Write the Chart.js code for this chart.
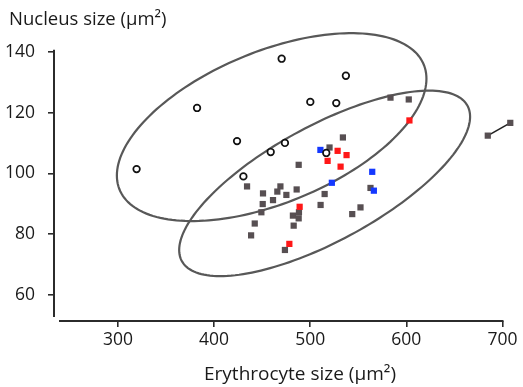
<!DOCTYPE html>
<html>
<head>
<meta charset="utf-8">
<script src="https://cdn.jsdelivr.net/npm/chart.js@4.4.1/dist/chart.umd.min.js"></script>
<style>
  html, body { margin: 0; padding: 0; background: #fff; }
  #wrap { width: 523px; height: 387px; }
</style>
</head>
<body>
<div id="wrap"><canvas id="chart" width="523" height="387"></canvas></div>
<script>
// tick labels
const tickX = [300, 400, 500, 600, 700];
const tickY = [60, 80, 100, 120, 140];

// open circles
const circleX = [319.4, 382.3, 423.9, 430.5, 458.9, 473.7, 470.3, 500.1, 527.1, 537.1, 516.7];
const circleY = [101.4, 121.5, 110.6, 99.0, 107.0, 110.0, 137.7, 123.5, 123.1, 132.1, 106.7];

// grey squares
const grayX = [434.3, 450.9, 469.0, 465.8, 475.2, 461.3, 485.9, 450.6, 449.2, 442.3, 438.5, 488.0, 520.1,
               534.0, 515.0, 510.8, 482.0, 488.3, 488.0, 482.8, 473.7, 543.7, 552.3, 562.7, 583.5, 602.5];
const grayY = [95.7, 93.4, 95.7, 94.0, 92.9, 91.2, 94.7, 89.9, 87.2, 83.5, 79.6, 102.8, 108.5,
               111.8, 93.2, 89.6, 86.1, 87.2, 85.2, 82.8, 74.8, 86.6, 88.8, 95.2, 124.9, 124.3];

// red squares
const redX = [489.0, 478.3, 528.5, 537.8, 518.1, 531.6, 603.2];
const redY = [89.0, 76.8, 107.4, 106.0, 104.1, 102.2, 117.4];

// blue squares
const blueX = [510.6, 522.5, 564.5, 566.2];
const blueY = [107.7, 96.9, 100.5, 94.3];

// the joined pair on the right
const pairX = [684.7, 708.1];
const pairY = [112.4, 116.6];

// ellipses: centre, spread and correlation
const ellipseCenterX = [459.9, 515.0];
const ellipseCenterY = [115.2, 96.7];
const ellipseSdX = [161.0, 151.3];
const ellipseSdY = [30.9, 30.5];
const ellipseCorr = [0.515, 0.7185];

const toPoints = (xs, ys) => xs.map((x, i) => ({ x: x, y: ys[i] }));

const FONT = '"Open Sans", "Noto Sans", sans-serif';
const AXIS = '#2b2b2b';

const framePlugin = {
    id: 'frame',
    beforeDatasetsDraw(chart) {
        const ctx = chart.ctx;
        const xs = chart.scales.x, ys = chart.scales.y;
        ctx.save();
        ctx.strokeStyle = '#585858';
        ctx.lineWidth = 2.2;
        for (let e = 0; e < ellipseCenterX.length; e++) {
            const r = ellipseCorr[e];
            const k = Math.sqrt(1 - r * r);
            ctx.beginPath();
            for (let i = 0; i <= 180; i++) {
                const t = i / 180 * Math.PI * 2;
                const vx = ellipseCenterX[e] + ellipseSdX[e] * Math.cos(t);
                const vy = ellipseCenterY[e] + ellipseSdY[e] * (r * Math.cos(t) + k * Math.sin(t));
                const px = xs.getPixelForValue(vx), py = ys.getPixelForValue(vy);
                if (i === 0) ctx.moveTo(px, py); else ctx.lineTo(px, py);
            }
            ctx.closePath();
            ctx.stroke();
        }
        ctx.restore();
    },
    afterDraw(chart) {
        const ctx = chart.ctx;
        const area = chart.chartArea;
        const xs = chart.scales.x, ys = chart.scales.y;
        ctx.save();
        ctx.strokeStyle = AXIS;
        ctx.lineWidth = 2;
        // detached axis lines
        ctx.beginPath();
        ctx.moveTo(area.left, ys.getPixelForValue(140) - 2);
        ctx.lineTo(area.left, area.bottom - 4);
        ctx.moveTo(area.left + 5, area.bottom);
        ctx.lineTo(xs.getPixelForValue(700) + 1, area.bottom);
        ctx.stroke();
        // axis titles
        ctx.fillStyle = '#1a1a1a';
        ctx.textBaseline = 'alphabetic';
        ctx.textAlign = 'left';
        ctx.font = '18.5px ' + FONT;
        ctx.fillText('Nucleus size (μm²)', 9, 25);
        ctx.textAlign = 'center';
        ctx.font = '19px ' + FONT;
        ctx.fillText('Erythrocyte size (μm²)', 300, 380);
        ctx.restore();
    }
};

const squareSet = (label, xs, ys, color) => ({
    label: label,
    data: toPoints(xs, ys),
    pointStyle: 'rect',
    pointRadius: 4.4,
    pointBorderWidth: 0,
    backgroundColor: color,
    borderColor: color,
    clip: false
});

new Chart(document.getElementById('chart'), {
    type: 'scatter',
    data: {
        datasets: [
            {
                label: 'circles',
                data: toPoints(circleX, circleY),
                pointStyle: 'circle',
                pointRadius: 3.3,
                pointBorderWidth: 1.7,
                backgroundColor: '#fff',
                borderColor: '#111',
                clip: false
            },
            squareSet('blue', blueX, blueY, '#1438ff'),
            squareSet('red', redX, redY, '#ff1717'),
            squareSet('grey', grayX, grayY, '#574f52'),
            {
                label: 'pair',
                data: toPoints(pairX, pairY),
                showLine: true,
                borderColor: '#222',
                borderWidth: 1.6,
                pointStyle: 'rect',
                pointRadius: 4.4,
                pointBorderWidth: 0,
                pointBackgroundColor: '#574f52',
                clip: false
            }
        ]
    },
    options: {
        responsive: false,
        animation: false,
        events: [],
        layout: { padding: { top: 30, right: 5, left: 0, bottom: 0 } },
        plugins: {
            legend: { display: false },
            tooltip: { enabled: false }
        },
        scales: {
            x: {
                type: 'linear',
                min: 233.5,
                max: 715.4,
                afterBuildTicks: s => { s.ticks = tickX.map(v => ({ value: v })); },
                afterFit: s => { s.height = 66; },
                border: { display: false },
                grid: { drawOnChartArea: false, drawTicks: true, tickLength: 6, color: AXIS, lineWidth: 1.6 },
                ticks: { color: '#1a1a1a', font: { family: FONT, size: 17.5 }, padding: 3, maxRotation: 0, autoSkip: false }
            },
            y: {
                type: 'linear',
                min: 51.44,
                max: 147.14,
                afterBuildTicks: s => { s.ticks = tickY.map(v => ({ value: v })); },
                afterFit: s => { s.width = 54; },
                border: { display: false },
                grid: { drawOnChartArea: false, drawTicks: true, tickLength: 6, color: AXIS, lineWidth: 1.6 },
                ticks: { color: '#1a1a1a', font: { family: FONT, size: 17.5 }, padding: 13, autoSkip: false }
            }
        }
    },
    plugins: [framePlugin]
});
</script>
</body>
</html>
